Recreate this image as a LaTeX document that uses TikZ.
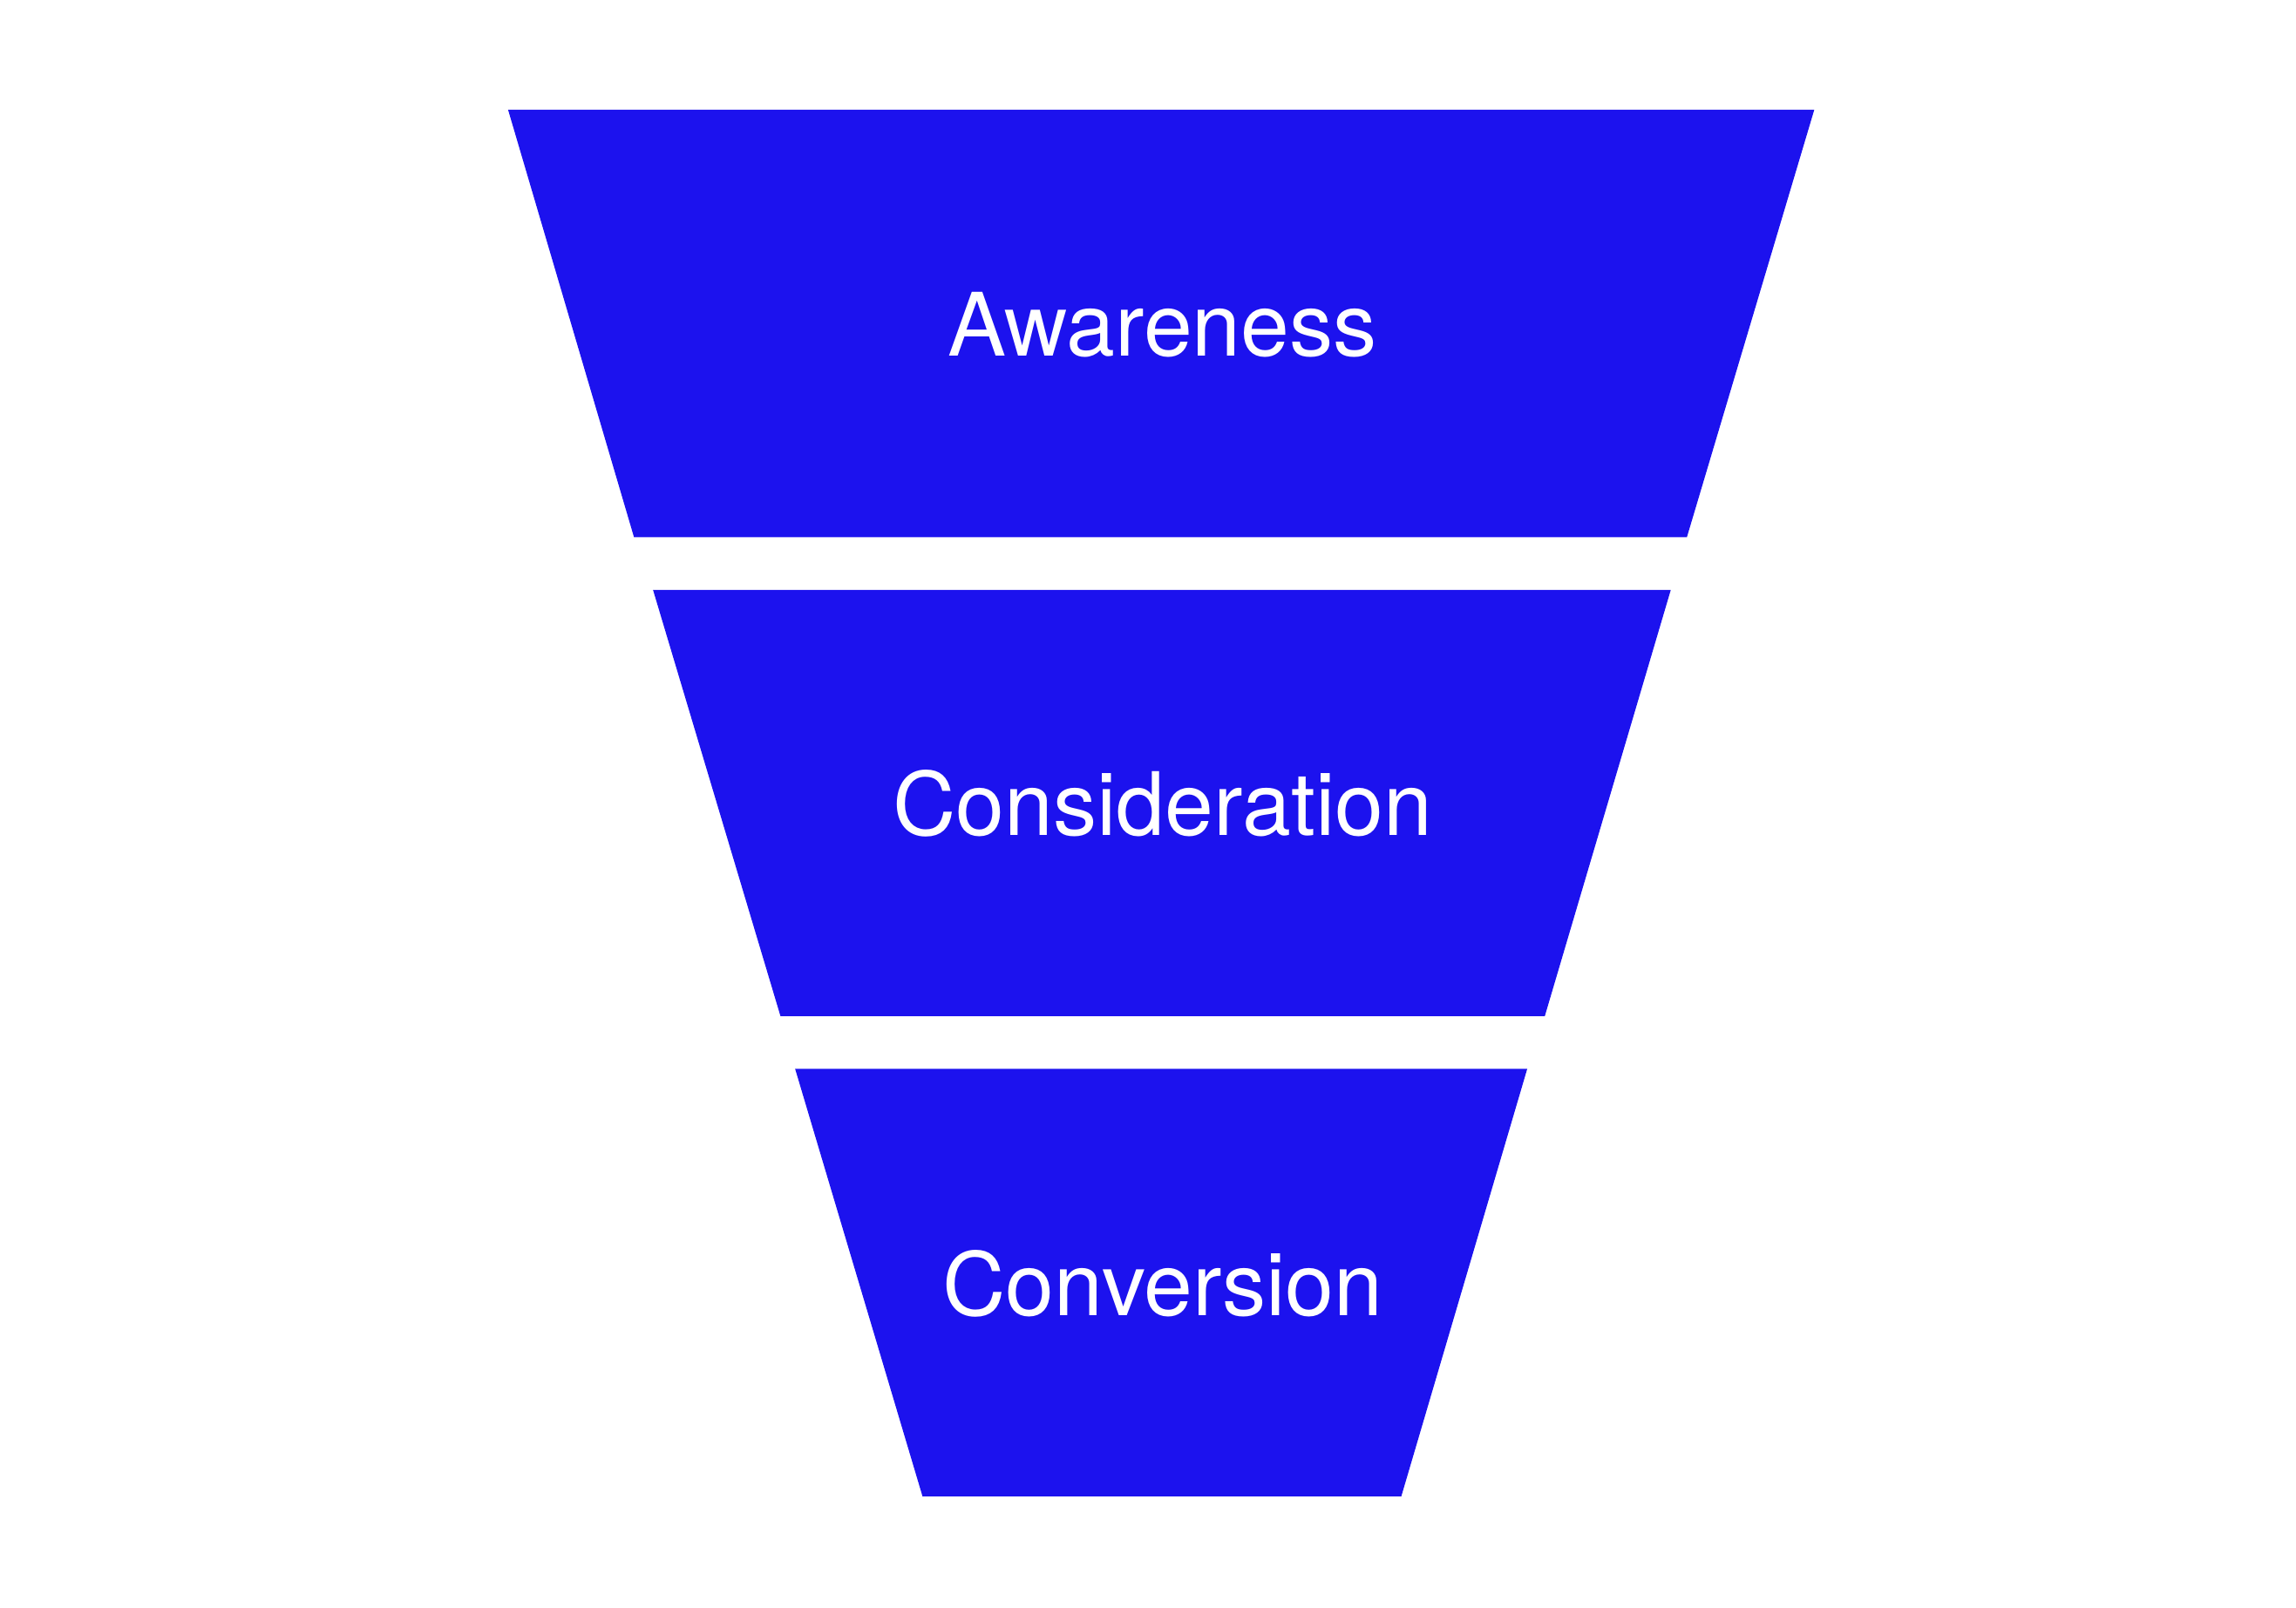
\documentclass[tikz,border=0pt]{standalone}
\usepackage{fontspec}
\setmainfont{TeX Gyre Heros}
\definecolor{funnelblue}{RGB}{28,18,238}

\begin{document}
\begin{tikzpicture}[x=0.01cm,y=-0.01cm,
                stage/.style={fill=funnelblue, draw=none},
                label text/.style={text=white, font=\fontsize{17}{20}\selectfont}]

            \useasboundingbox (0,0) rectangle (1568,1098);

            \fill[stage] (347,75) -- (1239,75) -- (1152,367) -- (433,367) -- cycle;
            \fill[stage] (446,403) -- (1141,403) -- (1055,694) -- (533,694) -- cycle;
            \fill[stage] (543,730) -- (1043,730) -- (957,1022) -- (630,1022) -- cycle;

            \node[label text] (aware) at (794,222) {Awareness};
            \node[label text] (consider) at (794,549) {Consideration};
            \node[label text] (convert) at (794,877) {Conversion};

        \end{tikzpicture}
\end{document}
